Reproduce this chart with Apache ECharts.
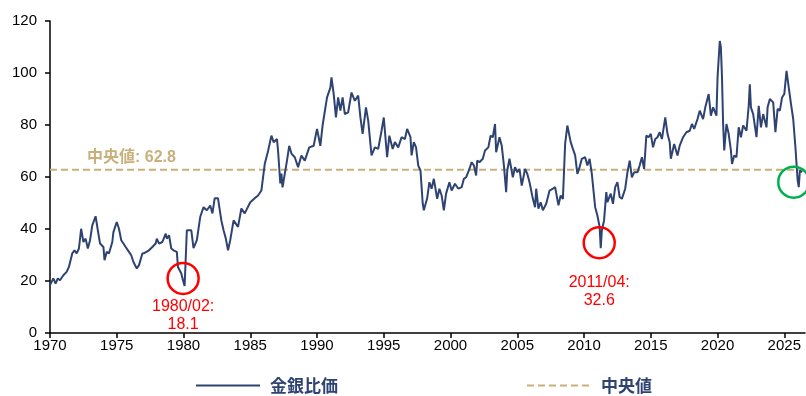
<!DOCTYPE html>
<html>
<head>
<meta charset="utf-8">
<script src="https://cdn.jsdelivr.net/npm/echarts@6/dist/echarts.min.js"></script>
<style>
  html, body { margin: 0; padding: 0; background: #fff; }
  #chart { width: 806px; height: 396px; }
</style>
</head>
<body>
<div id="chart"></div>
<script>
// Gold/silver price ratio, month (YYYY-MM) and ratio value
const months = [
  '1970-01','1970-04','1970-06','1970-08','1970-10','1971-01','1971-04','1971-06','1971-09','1971-11',
  '1972-01','1972-03','1972-05','1972-07','1972-09','1972-11','1973-01','1973-03','1973-06','1973-08',
  '1973-10','1974-01','1974-02','1974-04','1974-06','1974-09','1974-10','1975-01','1975-03','1975-05',
  '1975-07','1975-09','1975-12','1976-02','1976-04','1976-07','1976-09','1976-12','1977-02','1977-06',
  '1977-09','1977-12','1978-01','1978-03','1978-06','1978-09','1978-10','1978-12','1979-02','1979-04',
  '1979-07','1979-08','1979-11','1980-01','1980-02','1980-04','1980-08','1980-10','1981-01','1981-04',
  '1981-07','1981-10','1982-01','1982-03','1982-05','1982-08','1982-11','1983-01','1983-03','1983-05',
  '1983-07','1983-10','1984-02','1984-05','1984-08','1985-01','1985-05','1985-08','1985-11','1986-02',
  '1986-05','1986-08','1986-10','1987-01','1987-02','1987-04','1987-05','1987-06','1987-10','1987-12',
  '1988-02','1988-05','1988-08','1988-11','1989-02','1989-06','1989-10','1990-01','1990-04','1990-06',
  '1990-10','1991-01','1991-02','1991-04','1991-06','1991-08','1991-10','1991-12','1992-02','1992-05',
  '1992-08','1992-11','1993-02','1993-04','1993-06','1993-09','1993-11','1994-02','1994-05','1994-08',
  '1994-11','1995-01','1995-04','1995-06','1995-09','1995-11','1996-02','1996-05','1996-08','1996-10',
  '1997-01','1997-02','1997-04','1997-06','1997-08','1997-10','1997-12','1998-01','1998-04','1998-06',
  '1998-08','1998-10','1999-01','1999-03','1999-05','1999-07','1999-09','1999-12','2000-02','2000-05',
  '2000-08','2000-11','2001-01','2001-03','2001-06','2001-08','2001-10','2001-12','2002-01','2002-03',
  '2002-06','2002-08','2002-11','2003-01','2003-03','2003-05','2003-06','2003-09','2003-11','2004-01',
  '2004-03','2004-04','2004-06','2004-09','2004-11','2005-01','2005-03','2005-05','2005-08','2005-10',
  '2005-12','2006-03','2006-05','2006-06','2006-08','2006-10','2006-12','2007-03','2007-06','2007-09',
  '2007-11','2008-02','2008-04','2008-06','2008-08','2008-10','2009-01','2009-03','2009-05','2009-07',
  '2009-09','2009-11','2010-02','2010-04','2010-06','2010-08','2010-11','2011-01','2011-03','2011-04',
  '2011-05','2011-07','2011-09','2011-10','2012-01','2012-03','2012-05','2012-07','2012-09','2012-11',
  '2013-02','2013-04','2013-06','2013-08','2013-10','2014-01','2014-03','2014-05','2014-07','2014-09',
  '2014-11','2015-01','2015-03','2015-05','2015-07','2015-09','2015-11','2016-02','2016-04','2016-06',
  '2016-07','2016-09','2016-10','2017-01','2017-03','2017-06','2017-09','2017-12','2018-02','2018-04',
  '2018-07','2018-09','2018-12','2019-02','2019-05','2019-07','2019-09','2019-12','2020-01','2020-03',
  '2020-04','2020-05','2020-06','2020-07','2020-09','2020-11','2021-01','2021-02','2021-04','2021-06',
  '2021-08','2021-10','2021-12','2022-03','2022-05','2022-06','2022-07','2022-09','2022-12','2023-02',
  '2023-04','2023-06','2023-09','2023-10','2023-12','2024-03','2024-05','2024-07','2024-09','2024-11',
  '2025-01','2025-03','2025-05','2025-07','2025-09','2025-11','2026-01','2026-02','2026-03','2026-05'
];
const ratios = [
  18.4,21.0,19.0,21.0,20.3,22.2,23.5,25.4,30.6,31.8,
  30.6,32.5,40.1,35.0,36.3,32.5,35.7,41.4,44.9,39.5,
  34.4,33.1,28.0,31.2,30.6,35.0,38.8,42.7,40.1,35.7,
  34.4,33.1,31.2,29.9,27.3,24.8,26.1,30.6,30.8,31.8,
  33.1,34.4,36.3,34.4,35.0,38.2,36.3,37.6,32.5,31.8,
  31.2,25.4,22.9,19.5,18.1,39.5,39.5,32.6,35.7,44.6,
  48.4,47.2,49.0,46.0,51.8,51.8,43.3,39.5,36.4,31.8,
  35.7,43.3,40.8,47.9,46.0,50.3,51.8,52.9,54.8,65.0,
  70.0,75.9,73.4,74.6,70.0,57.5,61.3,56.0,66.3,72.0,
  69.0,67.6,63.8,68.3,66.3,71.4,72.0,78.5,72.0,79.8,
  90.6,94.4,98.3,91.9,82.9,90.6,85.5,90.6,84.2,84.9,
  92.5,89.3,91.3,82.9,76.6,86.8,81.7,68.3,71.4,70.8,
  77.8,82.9,67.6,75.9,70.8,73.4,71.4,75.3,74.6,78.5,
  75.3,68.3,73.4,71.4,64.4,62.5,49.8,47.2,51.8,58.0,
  55.5,59.3,51.6,55.5,52.9,47.2,53.6,58.0,54.8,57.4,
  55.5,56.1,59.3,59.9,63.1,65.7,64.4,60.6,66.3,65.7,
  67.0,70.2,71.4,75.9,75.3,80.4,69.5,75.3,72.1,64.4,
  54.2,62.5,67.0,59.9,63.8,61.8,63.1,56.7,63.1,61.2,
  58.0,51.6,48.4,55.5,47.8,50.3,47.2,49.7,54.8,55.5,
  56.1,49.1,52.9,51.6,72.7,79.8,73.4,70.8,68.3,61.2,
  63.8,67.0,67.6,64.4,67.0,61.2,48.4,45.2,40.8,32.6,
  39.5,43.3,54.2,50.3,53.6,49.7,56.1,58.0,52.3,51.6,
  55.5,61.8,66.3,59.9,61.8,61.8,64.4,67.6,63.1,75.9,
  75.3,76.6,71.4,74.6,75.3,77.2,74.6,82.9,76.6,73.4,
  67.0,70.8,72.7,68.3,72.1,75.3,77.2,77.8,80.4,78.5,
  82.3,85.5,82.3,86.8,91.9,83.6,86.8,83.6,98.3,112.3,
  109.8,98.3,80.4,70.2,80.4,76.6,70.2,65.0,68.3,67.6,
  79.1,75.3,79.8,77.8,87.4,95.7,86.8,84.2,75.3,87.4,
  79.1,84.2,79.1,86.8,90.0,88.7,77.2,86.2,85.5,90.6,
  91.9,100.8,94.4,88.1,82.3,71.4,58.7,56.1,62.5,61.8
];
const median = 62.8;
const yearTicks = [1970,1975,1980,1985,1990,1995,2000,2005,2010,2015,2020,2025];
const seriesNames = ['金銀比価', '中央値'];
const lows = [
  { month: '1980-02', value: 18.1, text: '1980/02:\n18.1' },
  { month: '2011-04', value: 32.6, text: '2011/04:\n32.6' }
];
const latestLow = { month: '2026-02', value: 56.1 };

const toYear = s => { const [y, m] = s.split('-').map(Number); return y + (m - 1) / 12; };
const xMin = 1970, xMax = 2026.55;
const lineData = months.map((m, i) => [toYear(m), ratios[i]]);

const FONT = '"Liberation Sans", Arial, "Noto Sans CJK JP", sans-serif';
const NAVY = '#2E4371';
const TAN = '#C9B07A';
const RED = '#FF0000';
const GREEN = '#00B050';

const chart = echarts.init(document.getElementById('chart'), null, { renderer: 'canvas' });
chart.setOption({
  animation: false,
  textStyle: { fontFamily: FONT },
  grid: { left: 50, right: 1, top: 21, bottom: 63 },
  xAxis: {
    type: 'value', min: xMin, max: xMax, interval: 5,
    axisLine: { show: true, lineStyle: { color: '#000', width: 1.5 } },
    axisTick: { show: true, inside: false, length: 5, lineStyle: { color: '#000', width: 1.5 }, customValues: yearTicks },
    axisLabel: { color: '#000', fontSize: 15, margin: 5, fontFamily: FONT, customValues: yearTicks, formatter: v => String(v) },
    splitLine: { show: false }
  },
  yAxis: {
    type: 'value', min: 0, max: 120, interval: 20,
    axisLine: { show: true, lineStyle: { color: '#000', width: 1.5 } },
    axisTick: { show: true, inside: false, length: 5, lineStyle: { color: '#000', width: 1.5 } },
    axisLabel: { color: '#000', fontSize: 15, margin: 13, fontFamily: FONT },
    splitLine: { show: false }
  },
  legend: {
    left: 190, top: 372, itemWidth: 64, itemHeight: 14, itemGap: 188,
    itemStyle: { color: 'rgba(0,0,0,0)', borderWidth: 0, opacity: 0 },
    textStyle: { color: NAVY, fontSize: 17, fontWeight: 'bold', fontFamily: '"Noto Sans CJK JP", sans-serif', padding: [0, 0, 0, 5] },
    data: seriesNames
  },
  series: [
    {
      name: seriesNames[0], type: 'line', data: lineData, symbol: 'none',
      lineStyle: { color: NAVY, width: 2 }, itemStyle: { color: NAVY }, z: 3,
      markPoint: {
        symbol: 'circle', symbolSize: 31, silent: true,
        itemStyle: { color: 'rgba(0,0,0,0)', borderWidth: 2.5 },
        data: [
          {
            coord: [toYear(lows[0].month), lows[0].value], symbolOffset: [-1.5, -7.5],
            itemStyle: { borderColor: RED, color: 'rgba(0,0,0,0)' },
            label: { show: true, position: 'bottom', distance: 2, formatter: lows[0].text, color: RED, fontSize: 16, lineHeight: 18, fontFamily: FONT }
          },
          {
            coord: [toYear(lows[1].month), lows[1].value], symbolOffset: [-1.5, -5.5],
            itemStyle: { borderColor: RED, color: 'rgba(0,0,0,0)' },
            label: { show: true, position: 'bottom', distance: 14, formatter: lows[1].text, color: RED, fontSize: 16, lineHeight: 18, fontFamily: FONT }
          },
          {
            coord: [toYear(latestLow.month), latestLow.value], symbolOffset: [-5, -5],
            itemStyle: { borderColor: GREEN, color: 'rgba(0,0,0,0)' },
            label: { show: false }
          }
        ]
      }
    },
    {
      name: seriesNames[1], type: 'line', data: [[xMin, median], [xMax, median]], symbol: 'none',
      lineStyle: { color: TAN, width: 2, type: [7, 4] }, itemStyle: { color: TAN }, z: 2,
      markPoint: {
        symbol: 'circle', symbolSize: 1, silent: true,
        itemStyle: { color: 'rgba(0,0,0,0)' },
        data: [{
          coord: [1976.1, median],
          label: { show: true, position: 'top', distance: 4, formatter: '中央値: ' + median.toFixed(1), color: TAN, fontSize: 16, fontWeight: 'bold', fontFamily: FONT }
        }]
      }
    }
  ]
});
</script>
</body>
</html>
